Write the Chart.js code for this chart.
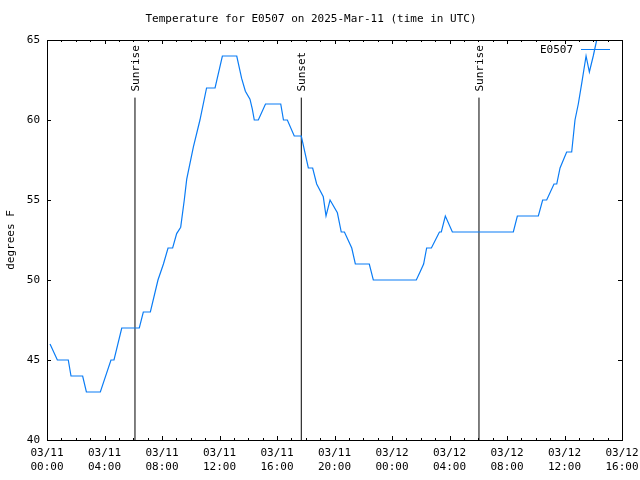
<!DOCTYPE html>
<html lang="en">
<head>
    <meta charset="UTF-8">
    <title>Temperature for E0507</title>
    <style>
        body {
            margin: 0;
            background-color: #FFFFFF;
        }
        #chartBox {
            width: 640px;
            height: 480px;
        }
    </style>
    <script src="https://cdn.jsdelivr.net/npm/chart.js"></script>
</head>
<body>
    <div id="chartBox">
        <canvas id="myChart" width="640" height="480"></canvas>
    </div>

    <script>
        // Messwerte: Stunden seit 03/11 00:00 UTC und Temperatur in °F
        var hours = [0.21, 0.72, 1.48, 1.67, 2.48, 2.74, 3.71, 4.45, 4.66, 5.2,
                     6.42, 6.7, 7.19, 7.72, 8.1, 8.42, 8.74, 9.02, 9.3, 9.55,
                     9.72, 10.18, 10.64, 11.1, 11.69, 12.2, 13.2, 13.54, 13.8, 14.12,
                     14.28, 14.42, 14.7, 15.2, 16.26, 16.45, 16.72, 17.2, 17.69, 18.18,
                     18.48, 18.76, 19.22, 19.41, 19.69, 20.2, 20.47, 20.69, 21.2, 21.45,
                     22.42, 22.7, 25.69, 25.95, 26.2, 26.41, 26.74, 27.3, 27.43, 27.71,
                     28.2, 32.44, 32.72, 34.18, 34.48, 34.76, 35.27, 35.46, 35.69, 36.15,
                     36.5, 36.73, 36.96, 37.2, 37.5, 37.73, 38.0, 38.24, 38.5];
        var temps = [46, 45, 45, 44, 44, 43, 43, 45, 45, 47,
                     47, 48, 48, 50, 51, 52, 52, 52.9, 53.3, 55,
                     56.3, 58.3, 60, 62, 62, 64, 64, 62.6, 61.8, 61.3,
                     60.7, 60, 60, 61, 61, 60, 60, 59, 59, 57,
                     57, 56, 55.2, 54, 55, 54.2, 53, 53, 52, 51,
                     51, 50, 50, 50.5, 51, 52, 52, 53, 53, 54,
                     53, 53, 54, 54, 55, 55, 56, 56, 57, 58,
                     58, 60, 61, 62.3, 64, 63, 64, 65, 66];

        // Sonnenauf- und -untergang
        var eventHours = [6.12, 17.69, 30.05];
        var eventLabels = ['Sunrise', 'Sunset', 'Sunrise'];
        var eventTop = 61.4;

        // Achsenbeschriftung
        var xTickLabels = [['03/11', '00:00'], ['03/11', '04:00'], ['03/11', '08:00'], ['03/11', '12:00'],
                           ['03/11', '16:00'], ['03/11', '20:00'], ['03/12', '00:00'], ['03/12', '04:00'],
                           ['03/12', '08:00'], ['03/12', '12:00'], ['03/12', '16:00']];
        var yTicks = [40, 45, 50, 55, 60, 65];

        var FONT = '"DejaVu Sans Mono", "Liberation Mono", monospace';
        var LINE_COLOR = '#0a7cf5';

        var points = hours.map(function(h, i) { return {x: h, y: temps[i]}; });

        var datasets = [{
            label: 'E0507',
            data: points,
            borderColor: LINE_COLOR,
            borderWidth: 1.2,
            pointRadius: 0,
            tension: 0,
            fill: false
        }];
        eventHours.forEach(function(h) {
            datasets.push({
                label: 'event',
                data: [{x: h, y: 40}, {x: h, y: eventTop}],
                borderColor: '#000000',
                borderWidth: 1,
                pointRadius: 0,
                fill: false
            });
        });

        // Rahmen, Ticks innen, Ereignis-Texte und Legende
        var gnuplotStyle = {
            id: 'gnuplotStyle',
            afterDatasetsDraw: function(chart) {
                var ctx = chart.ctx;
                var a = chart.chartArea;
                var xs = chart.scales.x;
                var ys = chart.scales.y;
                ctx.save();
                ctx.strokeStyle = '#000000';
                ctx.lineWidth = 1;
                ctx.strokeRect(Math.round(a.left) + 0.5, Math.round(a.top) + 0.5,
                               Math.round(a.right - a.left), Math.round(a.bottom - a.top));

                ctx.beginPath();
                for (var h = 0; h <= 40; h++) {
                    var px = Math.round(xs.getPixelForValue(h)) + 0.5;
                    var len = (h % 4 === 0) ? 4 : 2;
                    ctx.moveTo(px, a.bottom);
                    ctx.lineTo(px, a.bottom - len);
                    ctx.moveTo(px, a.top);
                    ctx.lineTo(px, a.top + len);
                }
                yTicks.forEach(function(v) {
                    var py = Math.round(ys.getPixelForValue(v)) + 0.5;
                    ctx.moveTo(a.left, py);
                    ctx.lineTo(a.left + 4, py);
                    ctx.moveTo(a.right, py);
                    ctx.lineTo(a.right - 4, py);
                });
                ctx.stroke();

                ctx.fillStyle = '#000000';
                ctx.font = '11px ' + FONT;
                ctx.textAlign = 'left';
                ctx.textBaseline = 'middle';
                eventHours.forEach(function(h, i) {
                    var px = xs.getPixelForValue(h);
                    var py = ys.getPixelForValue(eventTop) - 6;
                    ctx.save();
                    ctx.translate(px + 1, py);
                    ctx.rotate(-Math.PI / 2);
                    ctx.fillText(eventLabels[i], 0, 0);
                    ctx.restore();
                });

                // Legende
                ctx.textAlign = 'right';
                ctx.fillText(datasets[0].label, 573, 50);
                ctx.strokeStyle = LINE_COLOR;
                ctx.beginPath();
                ctx.moveTo(581, 49.5);
                ctx.lineTo(610, 49.5);
                ctx.stroke();
                ctx.restore();
            }
        };

        var ctx = document.getElementById('myChart').getContext('2d');
        var myChart = new Chart(ctx, {
            type: 'line',
            data: { datasets: datasets },
            plugins: [gnuplotStyle],
            options: {
                responsive: false,
                animation: false,
                layout: { padding: { left: 0, right: 18, top: 0, bottom: 0 } },
                plugins: {
                    legend: { display: false },
                    tooltip: { enabled: false },
                    title: {
                        display: true,
                        text: 'Temperature for E0507 on 2025-Mar-11 (time in UTC)',
                        color: '#000000',
                        font: { family: FONT, size: 11, weight: 'normal' },
                        padding: { top: 13, bottom: 13.8 }
                    }
                },
                scales: {
                    x: {
                        type: 'linear',
                        min: 0,
                        max: 40,
                        afterFit: function(scale) {
                            scale.height = 40;
                            scale.paddingLeft = 0;
                            scale.paddingRight = 0;
                        },
                        afterBuildTicks: function(scale) {
                            scale.ticks = xTickLabels.map(function(l, i) { return {value: i * 4}; });
                        },
                        grid: { display: false, drawTicks: false },
                        border: { display: false },
                        ticks: {
                            color: '#000000',
                            maxRotation: 0,
                            autoSkip: false,
                            padding: 6,
                            font: { family: FONT, size: 11, lineHeight: 1.27 },
                            callback: function(v, i) { return xTickLabels[i]; }
                        }
                    },
                    y: {
                        min: 40,
                        max: 65,
                        afterFit: function(scale) {
                            scale.width = 47;
                            scale.paddingTop = 0;
                            scale.paddingBottom = 0;
                        },
                        afterBuildTicks: function(scale) {
                            scale.ticks = yTicks.map(function(v) { return {value: v}; });
                        },
                        grid: { display: false, drawTicks: false },
                        border: { display: false },
                        title: {
                            display: true,
                            text: 'degrees F',
                            color: '#000000',
                            font: { family: FONT, size: 11 },
                            padding: { top: 5, bottom: 0 }
                        },
                        ticks: {
                            color: '#000000',
                            padding: 7,
                            font: { family: FONT, size: 11 }
                        }
                    }
                }
            }
        });
    </script>
</body>
</html>
